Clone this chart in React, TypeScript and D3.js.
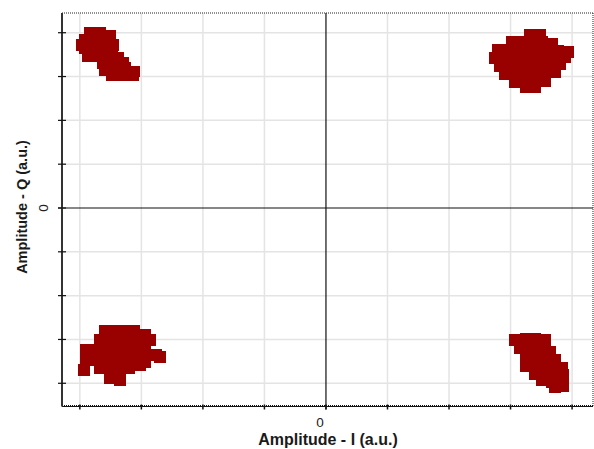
import React from 'react';
import * as d3 from 'd3';

// constellation points [I, Q] per quadrant
const q2Points: [number, number][] = [
	[-3.84, 4.0], [-3.67, 4.0], [-3.92, 3.84], [-3.76, 3.84], [-3.59, 3.84],
	[-3.51, 3.93], [-3.97, 3.72], [-3.46, 3.72], [-3.92, 3.65], [-3.76, 3.65],
	[-3.59, 3.65], [-3.48, 3.61], [-3.87, 3.47], [-3.71, 3.47], [-3.54, 3.47],
	[-3.38, 3.42], [-3.63, 3.31], [-3.46, 3.31], [-3.3, 3.31], [-3.27, 3.2],
	[-3.59, 3.15], [-3.43, 3.15], [-3.22, 3.11], [-3.11, 3.11], [-3.48, 3.04],
	[-3.32, 3.04], [-3.14, 3.04],
];

const q1Points: [number, number][] = [
	[3.32, 3.95], [3.48, 3.95], [3.02, 3.79], [3.19, 3.79], [3.35, 3.79],
	[3.51, 3.79], [3.67, 3.74], [2.8, 3.61], [2.96, 3.61], [3.12, 3.61],
	[3.28, 3.61], [3.45, 3.61], [3.61, 3.61], [3.77, 3.58], [3.93, 3.56],
	[2.75, 3.42], [2.91, 3.42], [3.07, 3.42], [3.24, 3.42], [3.4, 3.42],
	[3.56, 3.42], [3.72, 3.42], [3.89, 3.44], [2.83, 3.24], [2.99, 3.24],
	[3.15, 3.24], [3.32, 3.24], [3.48, 3.24], [3.64, 3.24], [3.8, 3.28],
	[2.91, 3.06], [3.07, 3.06], [3.24, 3.06], [3.4, 3.06], [3.56, 3.06],
	[3.72, 3.09], [3.07, 2.88], [3.24, 2.88], [3.4, 2.88], [3.56, 2.9],
	[3.24, 2.76], [3.4, 2.76],
];

const q3Points: [number, number][] = [
	[-3.59, -2.79], [-3.43, -2.79], [-3.27, -2.79], [-3.11, -2.79], [-2.94, -2.9],
	[-3.67, -3.01], [-3.51, -3.01], [-3.35, -3.01], [-3.19, -3.01], [-3.02, -3.01],
	[-2.86, -3.01], [-3.9, -3.24], [-3.74, -3.24], [-3.58, -3.24], [-3.41, -3.24],
	[-3.25, -3.24], [-3.09, -3.24], [-2.93, -3.24], [-2.76, -3.36], [-2.7, -3.4],
	[-3.9, -3.47], [-3.74, -3.47], [-3.58, -3.47], [-3.41, -3.47], [-3.25, -3.47],
	[-3.09, -3.47], [-2.93, -3.52], [-3.93, -3.7], [-3.67, -3.65], [-3.51, -3.7],
	[-3.35, -3.7], [-3.19, -3.65], [-3.02, -3.58], [-3.51, -3.88], [-3.35, -3.93],
];

const q4Points: [number, number][] = [
	[3.07, -3.01], [3.24, -2.99], [3.4, -2.99], [3.56, -3.01], [3.15, -3.2],
	[3.32, -3.2], [3.48, -3.2], [3.64, -3.29], [3.24, -3.4], [3.4, -3.4],
	[3.56, -3.4], [3.72, -3.47], [3.24, -3.61], [3.4, -3.61], [3.56, -3.61],
	[3.72, -3.61], [3.84, -3.65], [3.4, -3.79], [3.56, -3.79], [3.72, -3.79],
	[3.85, -3.81], [3.51, -3.93], [3.67, -3.97], [3.84, -3.97], [3.72, -4.09],
	[3.85, -4.06],
];

const gridTicks = [-4, -3, -2, -1, 1, 2, 3, 4];
const axisTicks = [-4, -3, -2, -1, 0, 1, 2, 3, 4];

const W = 594;
const H = 449;
const left = 62;
const right = 593;
const top = 13;
const bottom = 406.5;

export default function App() {
	const x = d3.scaleLinear().domain([-4.29, 4.34]).range([left, right]);
	const y = d3.scaleLinear().domain([-4.53, 4.45]).range([bottom, top]);
	const size = 11.5; // marker square side

	const allPoints = [...q1Points, ...q2Points, ...q3Points, ...q4Points];
	const font = 'Liberation Sans, Arial, sans-serif';

	return (
		<svg width={W} height={H} style={{ position: 'absolute', left: 0, top: 0 }}>
			<rect width={W} height={H} fill="#fff" />
			{/* grid */}
			{gridTicks.map((t) => (
				<line key={'gx' + t} x1={x(t)} x2={x(t)} y1={top} y2={bottom} stroke="#e4e4e4" strokeWidth={1.5} />
			))}
			{gridTicks.map((t) => (
				<line key={'gy' + t} x1={left} x2={right} y1={y(t)} y2={y(t)} stroke="#e4e4e4" strokeWidth={1.5} />
			))}
			{/* zero lines */}
			<line x1={x(0)} x2={x(0)} y1={top} y2={bottom + 3} stroke="#111" strokeWidth={1.2} />
			<line x1={left - 4} x2={right} y1={y(0)} y2={y(0)} stroke="#111" strokeWidth={1.2} />
			{/* frame top/right dotted */}
			<line x1={left} x2={right} y1={top} y2={top} stroke="#222" strokeWidth={1} strokeDasharray="1,1" />
			<line x1={right} x2={right} y1={top} y2={bottom} stroke="#222" strokeWidth={1} strokeDasharray="1,1" />
			{/* bottom axis */}
			<line x1={left} x2={right} y1={bottom} y2={bottom} stroke="#111" strokeWidth={1} />
			<line x1={left} x2={right} y1={bottom - 1} y2={bottom - 1} stroke="#111" strokeWidth={1} strokeDasharray="1,1" />
			{axisTicks.map((t) => (
				<line key={'tx' + t} x1={x(t)} x2={x(t)} y1={bottom - 2} y2={bottom + 3} stroke="#111" strokeWidth={1.5} />
			))}
			{/* left axis */}
			<line x1={left} x2={left} y1={top} y2={bottom} stroke="#333" strokeWidth={2} />
			{axisTicks.map((t) => (
				<line key={'ty' + t} x1={left - 4} x2={left + 4} y1={y(t)} y2={y(t)} stroke="#111" strokeWidth={1.2} />
			))}
			{/* markers */}
			<g fill="#990000" shapeRendering="crispEdges">
				{allPoints.map((p, i) => (
					<rect key={i} x={x(p[0]) - size / 2} y={y(p[1]) - size / 2} width={size} height={size} />
				))}
			</g>
			{/* labels */}
			<text x={x(0) - 6} y={427} textAnchor="middle" fontFamily={font} fontSize={13.5} fill="#222">
				0
			</text>
			<text transform={`translate(48, ${y(0)}) rotate(-90)`} textAnchor="middle" fontFamily={font} fontSize={13.5} fill="#222">
				0
			</text>
			<text x={x(0) + 2} y={445} textAnchor="middle" fontFamily={font} fontWeight="bold" fontSize={16} fill="#1a1a1a">
				Amplitude - I (a.u.)
			</text>
			<text
				transform={`translate(27, ${y(0) - 1}) rotate(-90)`}
				textAnchor="middle"
				fontFamily={font}
				fontWeight="bold"
				fontSize={14.5}
				fill="#1a1a1a"
			>
				Amplitude - Q (a.u.)
			</text>
		</svg>
	);
}
